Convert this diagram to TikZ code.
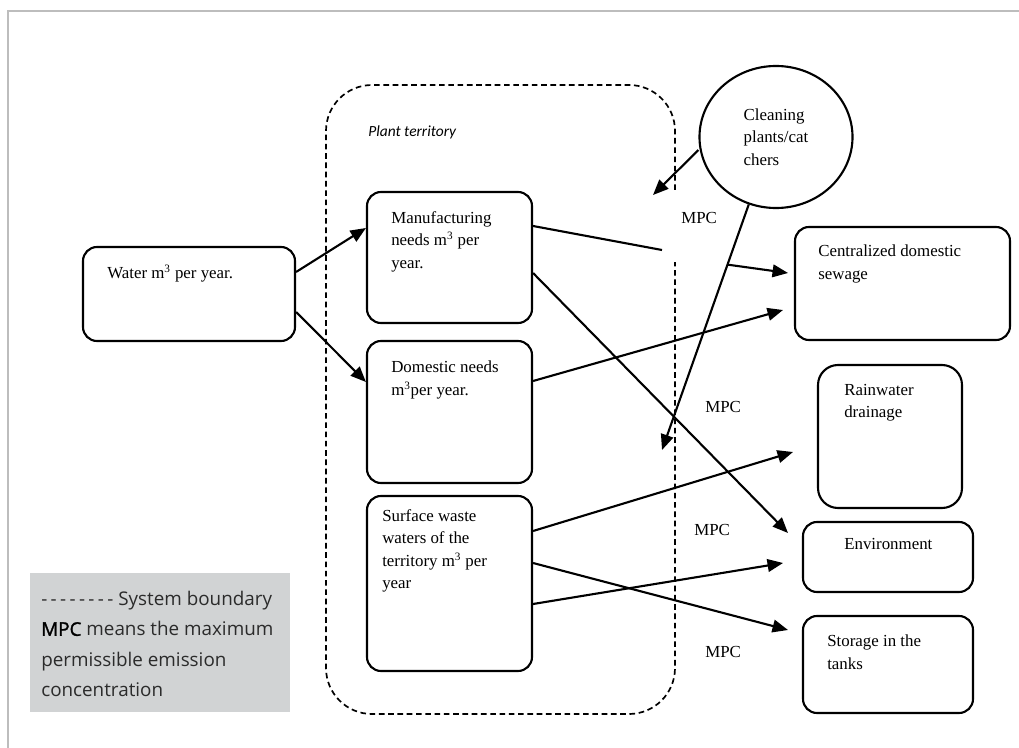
\documentclass[tikz,border=0pt]{standalone}
\usepackage{fontspec}
\setmainfont{Liberation Serif}
\newfontfamily\legendfont{Open Sans}
\newfontfamily\plantfont{Carlito}
\usepackage{xcolor}
\usetikzlibrary{positioning, fit, shapes.geometric, arrows.meta}
\definecolor{framegray}{HTML}{BDBDBD}
\definecolor{legendgray}{HTML}{D1D3D4}
\definecolor{legendtext}{HTML}{2B2B2B}

\begin{document}
\begin{tikzpicture}[x=0.025cm, y=-0.025cm]
	\tikzstyle{box}=[draw=black, line width=1.5pt, rounded corners=0.35cm, inner sep=0pt]
	\tikzstyle{txt}=[anchor=north west, inner sep=0pt, align=left, font=\fontsize{12}{16}\selectfont]
	\tikzstyle{mpc}=[anchor=base west, inner sep=0pt, font=\fontsize{12}{16}\selectfont]
	\tikzstyle{flow}=[line width=1.5pt, -{Triangle[length=11pt,width=9pt]}]
	\useasboundingbox (0,0) rectangle (1019,748);
	\draw[framegray, line width=1.4pt] (8,748) -- (8,11) -- (1019,11);
	% system boundary, open on the right
	\draw[line width=1.2pt, dash pattern=on 4pt off 2.6pt, rounded corners=1.15cm]
		(675,190) -- (675,85) -- (326,85) -- (326,714) -- (675,714) -- (675,262);
	\node[anchor=base west, inner sep=0pt, font=\plantfont\itshape\fontsize{11}{13}\selectfont] (plant) at (368,137) {Plant territory};
	% boxes
	\node[box, fit={(83,247) (295,341)}] (water) {};
	\node[box, fit={(367,192) (532,323)}] (manuf) {};
	\node[box, fit={(367,341) (532,483)}] (dom) {};
	\node[box, fit={(367,496) (532,671)}] (surf) {};
	\node[box, fit={(795,227) (1010,340)}] (cent) {};
	\node[box, rounded corners=0.5cm, fit={(818,365) (962,508)}] (rain) {};
	\node[box, fit={(803,522) (973,592)}] (env) {};
	\node[box, fit={(803,616) (973,713)}] (stor) {};
	\node[ellipse, draw=black, line width=1.5pt, minimum width=3.825cm, minimum height=3.55cm, inner sep=0pt,
		align=left, font=\fontsize{12}{16}\selectfont] (clean) at (776,137) {Cleaning\\plants/cat\\chers};
	% box texts
	\node[txt] (watertxt) at (107,265) {Water m\textsuperscript{3} per year.};
	\node[txt] (manuftxt) at (391,211) {Manufacturing\\needs m\textsuperscript{3} per\\year.};
	\node[txt] (domtxt) at (391,361) {Domestic needs\\m\textsuperscript{3}per year.};
	\node[txt] (surftxt) at (382,509) {Surface waste\\waters of the\\territory m\textsuperscript{3} per\\year};
	\node[txt] (centtxt) at (818,245) {Centralized domestic\\sewage};
	\node[txt] (raintxt) at (844,384) {Rainwater\\drainage};
	\node[txt] (envtxt) at (844,538) {Environment};
	\node[txt] (stortxt) at (827,635) {Storage in the\\tanks};
	\node[mpc] (mpc1) at (681,223) {MPC};
	\node[mpc] (mpc2) at (705,412) {MPC};
	\node[mpc] (mpc3) at (694,535) {MPC};
	\node[mpc] (mpc4) at (705,657) {MPC};
	% free ends
	\coordinate (gapin) at (653,195);
	\coordinate (gapend) at (662,250);
	\coordinate (mpcin) at (662,450);
	\coordinate (centin1) at (788,273);
	\coordinate (centin2) at (783,310);
	\coordinate (rainin) at (793,452);
	\coordinate (envin1) at (788,533);
	\coordinate (envin2) at (783,563);
	\coordinate (storin) at (788,630);
	% flows
	\draw[flow] (water.east |- 0,272) -- (manuf.west |- 0,228);
	\draw[flow] (water.east |- 0,312) -- (dom.west |- 0,382);
	\draw[flow] (clean.west |- 0,150) -- (gapin);
	\draw[line width=1.5pt] (manuf.east |- 0,226) -- (gapend);
	\draw[flow] (clean.248) -- coordinate[pos=0.245] (branch) (mpcin);
	\draw[flow] (branch) -- (centin1);
	\draw[flow] (dom.east |- 0,381) -- (centin2);
	\draw[flow] (manuf.east |- 0,273) -- (envin1);
	\draw[flow] (surf.east |- 0,531) -- (rainin);
	\draw[flow] (surf.east |- 0,563) -- (storin);
	\draw[flow] (surf.east |- 0,604) -- (envin2);
	% legend
	\node[fill=legendgray, inner sep=0pt, fit={(30,573) (290,712)}] (legend) {};
	\node[anchor=north west, inner sep=0pt, align=left, text=legendtext,
		font=\legendfont\fontsize{13.4}{21.5}\selectfont] (legendtxt) at (41,591)
		{-\hspace{2.4pt}-\hspace{2.4pt}-\hspace{2.4pt}-\hspace{2.4pt}-\hspace{2.4pt}-\hspace{2.4pt}-\hspace{2.4pt}- System boundary\\{\color{black}\addfontfeature{FakeBold=1.5}MPC} means the maximum\\permissible emission\\concentration};
\end{tikzpicture}
\end{document}
